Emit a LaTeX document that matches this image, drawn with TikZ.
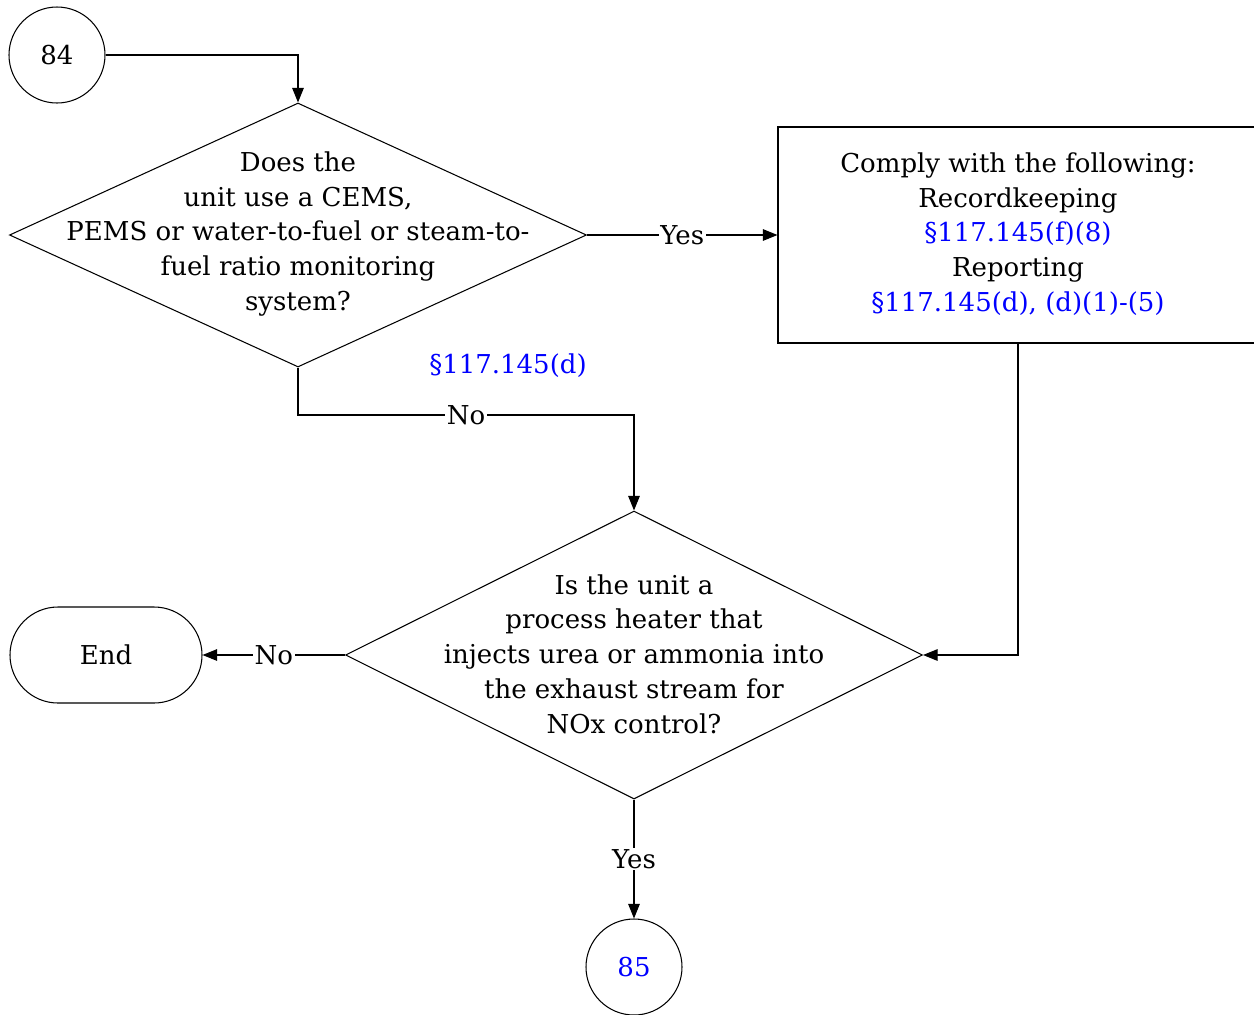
\documentclass[tikz,border=0pt]{standalone}
\usepackage{fontspec}
\setmainfont{DejaVu Serif}
\usetikzlibrary{positioning, arrows.meta, shapes.geometric}
\definecolor{reflink}{RGB}{0,0,255}

\begin{document}
\begin{tikzpicture}[
  x=0.2mm, y=-0.2mm,
  font=\fontsize{14.8}{19.8}\selectfont,
  line width=0.6pt,
  >={Triangle[length=2.9mm,width=2.3mm]},
  conn/.style     ={draw, circle, minimum size=19.2mm, inner sep=0pt},
  decision/.style ={draw, diamond, minimum width=115.4mm, minimum height=52.8mm, inner sep=0pt},
  action/.style   ={draw, rectangle, minimum width=96mm, minimum height=43.2mm, inner sep=0pt},
  term/.style     ={draw, rectangle, rounded corners=9.6mm, minimum width=38.4mm, minimum height=19.2mm},
  txt/.style      ={align=center, inner sep=0pt},
  lbl/.style      ={fill=white, inner sep=1pt},
  arr/.style      ={->},
]
\useasboundingbox (0,0) rectangle (1254,1014);

% ---- start connector and first question ----
\node[conn] (c84) at (57,55) {84};
\node[decision] (q1) at (298,235) {};
\node[txt] (q1text) at (298,234) {Does the\\unit use a CEMS,\\PEMS or water-to-fuel or steam-to-\\fuel ratio monitoring\\system?};

% ---- comply box ----
\node[action] (comply) at (1018,235) {};
\node[txt] (complytext) at (1018,234) {Comply with the following:\\Recordkeeping\\{\color{reflink}§117.145(f)(8)}\\Reporting\\{\color{reflink}§117.145(d), (d)(1)-(5)}};

% ---- second question ----
\node[decision, minimum height=57.6mm] (q2) at (634,655) {};
\node[txt] (q2text) at (634,654) {Is the unit a\\process heater that\\injects urea or ammonia into\\the exhaust stream for\\NOx control?};

\node[term] (end) at (106,655) {End};
\node[conn, text=reflink] (c85) at (634,967) {85};

\node[text=reflink] (ref1) at (508,366) {§117.145(d)};

% ---- connectors ----
\coordinate (q1turn) at (298,415);
\draw[arr] (c84.east) -| (q1.north);
\draw[arr] (q1.east) -- node[lbl] {Yes} (comply.west);
\draw[arr] (q1.south) -- (q1turn) -| node[lbl, pos=0.25] {No} (q2.north);
\draw[arr] (comply.south) |- (q2.east);
\draw[arr] (q2.west) -- node[lbl] {No} (end.east);
\draw[arr] (q2.south) -- node[lbl] {Yes} (c85.north);

\end{tikzpicture}
\end{document}
